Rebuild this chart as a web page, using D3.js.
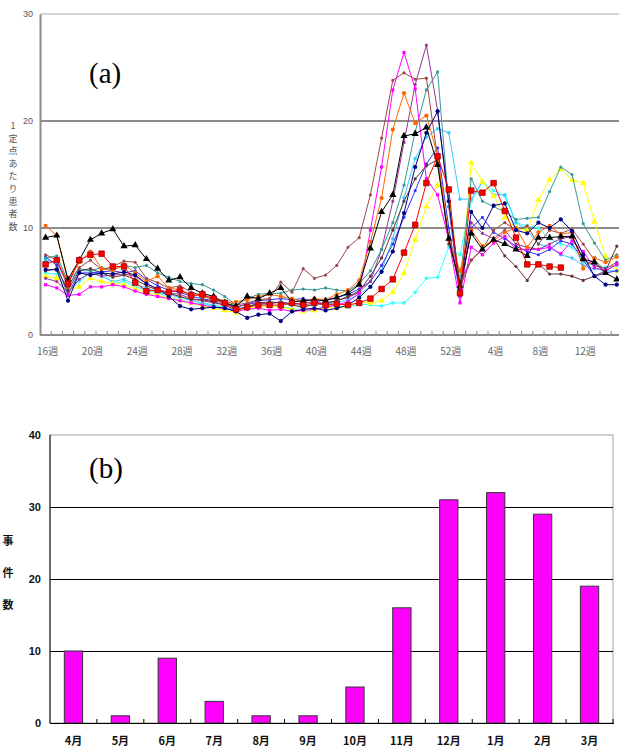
<!DOCTYPE html>
<html><head><meta charset="utf-8">
<script src="https://cdn.jsdelivr.net/npm/d3@7"></script>
<style>body{margin:0;background:#fff}svg{display:block}</style>
</head><body>
<svg id="c" width="619" height="749"></svg>
<script>
// ---------- Chart (a): weekly reports per sentinel ----------
const weeks = ["16","17","18","19","20","21","22","23","24","25","26","27","28","29","30","31","32","33","34","35","36","37","38","39","40","41","42","43","44","45","46","47","48","49","50","51","52","1","2","3","4","5","6","7","8","9","10","11","12","13","14","15"];
const weekTickLabels = ["16","20","24","28","32","36","40","44","48","52","4","8","12"];
const yTicksA = [0,10,20,30];

const s_black  = [9.1,9.3,5.2,7.0,8.9,9.5,9.9,8.3,8.4,7.1,6.2,5.1,5.4,4.4,3.9,3.6,3.0,2.7,3.6,3.4,3.9,4.4,3.1,3.2,3.3,3.2,3.5,3.9,4.7,8.1,11.5,13.1,18.6,18.8,19.4,15.9,9.0,4.6,9.5,8.0,8.9,8.5,8.0,7.4,9.1,9.1,9.2,9.2,7.1,6.8,5.8,5.2];
const s_red    = [6.6,7.0,4.8,7.0,7.5,7.6,6.4,6.4,4.9,4.1,4.2,4.0,4.2,3.7,3.8,3.4,3.0,2.4,2.6,2.8,2.8,2.8,3.0,2.8,3.0,2.8,2.9,2.8,3.0,3.4,4.3,5.2,7.7,10.3,14.2,16.7,13.6,3.9,13.5,13.3,14.2,11.6,9.1,6.6,6.6,6.4,6.3,null,null,null,null,null];
const s_orange = [10.2,9.3,5.0,6.8,7.8,6.2,6.0,6.6,5.8,5.0,5.5,4.4,4.2,3.8,3.6,3.3,3.0,3.1,3.3,3.6,3.8,3.6,3.4,3.1,3.4,3.3,3.8,4.2,5.1,8.7,12.8,19.2,22.6,19.8,20.5,16.8,8.9,6.0,9.8,8.3,8.8,9.6,10.0,8.2,9.6,10.2,9.4,9.6,6.2,7.2,6.8,7.3];
const s_magenta= [4.7,4.4,3.7,3.8,4.5,4.5,4.7,4.5,4.1,3.8,3.6,3.4,3.2,3.0,2.8,2.6,2.5,2.2,2.4,2.5,2.3,2.4,2.2,2.3,2.4,2.6,2.8,3.1,3.9,9.8,15.7,22.9,26.4,23.0,14.6,13.1,8.9,3.0,8.2,7.5,8.6,9.2,8.0,8.0,8.0,8.2,7.6,8.8,7.8,6.3,6.0,6.6];
const s_brown  = [7.5,7.0,4.5,6.3,7.0,6.1,6.4,6.9,6.8,5.3,4.9,4.4,4.6,4.0,3.7,3.4,3.2,2.8,3.0,3.3,3.4,4.95,4.0,6.2,5.3,5.6,6.5,8.2,9.1,13.1,18.4,23.8,24.5,23.9,24.0,16.5,9.0,4.5,7.0,8.0,9.8,10.5,9.8,10.2,8.5,9.8,9.5,9.9,8.5,7.0,6.0,6.6];
const s_purple = [5.3,5.0,4.0,5.2,5.8,5.5,5.6,5.7,5.5,4.8,4.3,3.9,3.8,3.4,3.2,3.0,2.8,2.6,2.9,3.0,2.9,3.1,2.9,3.0,3.1,2.9,3.2,3.5,4.0,5.0,8.0,12.5,18.0,23.4,27.1,21.0,12.0,3.6,10.5,9.5,9.0,9.8,8.5,8.2,8.0,8.5,9.0,9.2,7.0,6.5,6.2,6.8];
const s_teal   = [7.2,7.4,5.0,6.2,6.0,6.3,6.1,6.5,6.3,6.5,5.8,5.4,5.0,4.8,4.7,4.2,3.6,2.8,3.4,3.8,3.9,3.9,4.2,4.3,4.2,4.4,4.2,4.1,4.8,6.0,8.0,10.5,14.0,19.0,22.9,24.6,12.0,5.0,14.6,12.5,12.0,11.5,10.8,10.9,11.0,13.4,15.7,15.0,10.4,8.6,7.0,7.5];
const s_navy   = [6.1,6.1,3.2,5.8,5.6,5.8,5.7,5.9,5.6,4.8,4.3,3.6,2.7,2.4,2.5,2.6,2.5,2.2,1.6,1.9,2.0,1.3,2.2,2.4,2.5,2.3,2.5,2.8,3.5,4.5,5.9,7.8,11.4,15.7,18.9,20.9,12.5,4.3,11.5,10.0,12.1,12.3,9.8,9.5,10.5,10.0,10.8,9.7,7.5,5.5,4.7,4.7];
const s_sky    = [7.0,6.8,4.6,6.0,6.0,5.5,5.0,5.2,4.7,4.4,4.0,3.8,3.5,3.2,3.0,2.8,2.6,2.3,2.7,2.9,3.0,3.1,2.9,2.7,2.8,2.9,3.0,3.3,3.8,4.5,6.0,9.0,12.8,16.5,18.5,19.3,18.9,12.7,12.7,14.3,13.1,13.1,10.5,9.8,8.5,8.2,7.5,7.2,6.5,6.2,6.0,6.0];
const s_cyan   = [5.8,5.7,4.0,5.0,5.8,6.0,4.8,5.0,4.5,4.2,4.0,3.5,3.3,3.0,2.9,2.7,2.5,2.4,2.7,2.9,2.8,2.6,2.5,2.2,2.3,2.8,2.7,2.6,2.9,2.8,2.7,3.0,3.0,4.0,5.3,5.4,8.2,7.5,12.5,14.3,13.5,13.0,10.5,10.2,10.0,9.0,8.5,8.2,6.8,6.5,6.3,6.5];
const s_yellow = [5.5,5.3,4.2,4.5,5.3,5.0,4.8,4.7,4.3,4.0,3.7,3.5,3.2,3.0,2.7,2.5,2.3,2.1,2.5,2.6,2.7,2.6,2.4,2.2,2.3,2.6,2.5,2.7,3.1,3.0,3.2,4.0,5.8,8.9,12.0,14.0,13.5,4.0,16.1,14.3,13.0,11.0,10.0,9.8,12.6,14.5,15.5,14.5,14.2,10.6,7.3,6.0];
const s_dark   = [6.0,6.2,4.2,6.0,6.2,5.8,5.4,5.6,5.2,4.6,4.2,3.9,3.6,3.3,3.3,3.1,2.8,2.3,2.6,3.0,3.1,3.0,2.8,2.6,2.9,3.0,3.2,3.6,4.1,5.5,7.2,9.8,12.5,14.6,15.8,16.4,8.5,5.0,7.0,8.0,9.0,7.4,6.4,5.1,6.7,5.7,5.7,5.5,5.1,5.5,6.0,8.3];
const s_blue   = [7.3,6.5,3.8,5.8,5.8,5.9,6.0,5.8,6.0,5.2,4.6,4.2,4.0,3.6,3.4,3.2,3.0,2.6,2.9,3.2,3.3,3.4,3.3,3.4,3.1,3.3,3.5,3.8,4.3,5.0,6.5,8.5,11.0,13.5,16.0,17.5,10.0,3.8,10.0,11.0,9.6,9.0,8.3,7.8,7.5,8.0,8.8,8.5,7.0,5.5,5.8,6.0];

// ---------- Chart (b): monthly counts ----------
const months = ["4月","5月","6月","7月","8月","9月","10月","11月","12月","1月","2月","3月"];
const counts = [10,1,9,3,1,1,5,16,31,32,29,19];
const yTicksB = [0,10,20,30,40];

// styles (kept separate from data)
const seriesA = [
  {v:s_cyan,   c:"#33FFFF", m:"circle", ms:10, sw:1},
  {v:s_sky,    c:"#33CCFF", m:"circle", ms:10, sw:1},
  {v:s_yellow, c:"#FFFF00", m:"triangle", ms:18, sw:1},
  {v:s_blue,   c:"#3333FF", m:"circle", ms:8, sw:1},
  {v:s_purple, c:"#993399", m:"circle", ms:8, sw:1},
  {v:s_teal,   c:"#339999", m:"circle", ms:8, sw:1},
  {v:s_dark,   c:"#663333", m:"circle", ms:8, sw:1},
  {v:s_brown,  c:"#A04848", m:"circle", ms:8, sw:1},
  {v:s_magenta,c:"#FF00FF", m:"square", ms:10, sw:1},
  {v:s_orange, c:"#FF6600", m:"circle", ms:14, sw:1},
  {v:s_navy,   c:"#000080", m:"circle", ms:14, sw:1},
  {v:s_black,  c:"#000000", m:"triangle", ms:22, sw:1},
  {v:s_red,    c:"#FF0000", m:"square", ms:30, sw:1, stroke:"#990000"}
];

const svg = d3.select("#c");
const jp = "'Noto Sans CJK JP','Noto Sans',sans-serif";
const num = "'Liberation Sans',Arial,sans-serif";

// ---- (a) ----
const pa = {l:40, t:14, b:335, r:619};
const xA = d3.scaleBand().domain(weeks).range([pa.l, pa.l + 11.2*weeks.length]).padding(0);
const cx = w => xA(w) + xA.bandwidth()/2;
const yA = d3.scaleLinear().domain([0,30]).range([pa.b, pa.t]);

const gA = svg.append("g");
gA.append("defs").append("clipPath").attr("id","clipA").append("rect")
  .attr("x", pa.l).attr("y", 0).attr("width", pa.r - pa.l).attr("height", pa.b + 5);

// grid
gA.selectAll("line.grid").data(yTicksA.filter(d=>d>0)).join("line")
  .attr("x1", pa.l).attr("x2", pa.r).attr("y1", d=>yA(d)).attr("y2", d=>yA(d))
  .attr("stroke", d=> d===30 ? "#d4d4d4" : "#8c8c8c").attr("stroke-width", 2);

// y axis
const axA = gA.append("g").attr("transform",`translate(${pa.l},0)`)
  .call(d3.axisLeft(yA).tickValues(yTicksA).tickSize(0).tickPadding(7));
axA.select(".domain").attr("stroke","#8c8c8c").attr("stroke-width",2);
axA.selectAll("text").attr("font-family",num).attr("font-size",9).attr("fill","#555");

// x axis
const axX = gA.append("g").attr("transform",`translate(0,${pa.b})`);
axX.append("line").attr("x1",pa.l).attr("x2",pa.r).attr("y1",0).attr("y2",0)
  .attr("stroke","#8c8c8c").attr("stroke-width",2);
axX.selectAll("line.tk").data(weeks).join("line")
  .attr("x1", w=>xA(w)+xA.bandwidth()).attr("x2", w=>xA(w)+xA.bandwidth())
  .attr("y1",-4).attr("y2",0).attr("stroke","#8c8c8c").attr("stroke-width",1);
axX.selectAll("text").data(weekTickLabels).join("text")
  .attr("x", w=>cx(w)+2).attr("y", 20).attr("text-anchor","middle")
  .attr("font-family",jp).attr("font-size",10).attr("fill","#666").text(w=>w+"週");

// y label (vertical stacked)
const labA = "1定点あたり患者数".split("");
gA.selectAll("text.yl").data(labA).join("text")
  .attr("x", 13).attr("y",(d,i)=>129 + i*12.6).attr("text-anchor","middle")
  .attr("font-family",jp).attr("font-size",9).attr("fill","#555").text(d=>d);

// series
const plot = gA.append("g").attr("clip-path","url(#clipA)");
const line = d3.line().defined(d=>d.v!=null).x(d=>cx(d.w)).y(d=>yA(d.v));
const symMap = {circle:d3.symbolCircle, square:d3.symbolSquare, triangle:d3.symbolTriangle};
seriesA.forEach(s=>{
  const pts = weeks.map((w,i)=>({w, v:s.v[i]}));
  plot.append("path").datum(pts).attr("d",line).attr("fill","none")
    .attr("stroke",s.c).attr("stroke-width",s.sw);
  plot.selectAll(null).data(pts.filter(p=>p.v!=null)).join("path")
    .attr("transform",p=>`translate(${cx(p.w)},${yA(p.v)})`)
    .attr("d", d3.symbol().type(symMap[s.m]).size(s.ms))
    .attr("fill",s.c).attr("stroke",s.stroke||"none").attr("stroke-width",0.8);
});

gA.append("text").attr("x",89).attr("y",83).attr("font-family","'Liberation Serif','DejaVu Serif',serif")
  .attr("font-size",29).attr("fill","#000").text("(a)");

// ---- (b) ----
const pb = {l:50, r:613, t:435, b:723};
const xB = d3.scaleBand().domain(months).range([pb.l, pb.r]).padding(0);
const yB = d3.scaleLinear().domain([0,40]).range([pb.b, pb.t]);
const gB = svg.append("g");

gB.append("rect").attr("x",pb.l).attr("y",pb.t).attr("width",pb.r-pb.l).attr("height",pb.b-pb.t)
  .attr("fill","none").attr("stroke","#a0a0a0").attr("stroke-width",1);
gB.selectAll("line.g").data(yTicksB.filter(d=>d>0 && d<40)).join("line")
  .attr("x1",pb.l).attr("x2",pb.r).attr("y1",d=>yB(d)+0.5).attr("y2",d=>yB(d)+0.5)
  .attr("stroke","#000").attr("stroke-width",1);

const bw = xB.bandwidth()*0.39;
gB.selectAll("rect.bar").data(counts).join("rect")
  .attr("x",(d,i)=>xB(months[i])+xB.bandwidth()/2-bw/2).attr("width",bw)
  .attr("y",d=>yB(d)).attr("height",d=>pb.b-yB(d))
  .attr("fill","#FF00FF").attr("stroke","#333").attr("stroke-width",1);

gB.append("line").attr("x1",pb.l).attr("x2",pb.l).attr("y1",pb.t).attr("y2",pb.b).attr("stroke","#000");
gB.append("line").attr("x1",pb.l).attr("x2",pb.r+1).attr("y1",pb.b+0.5).attr("y2",pb.b+0.5).attr("stroke","#000");
gB.selectAll("line.tk").data(months.slice(0,-1).concat([months[months.length-1]])).join("line")
  .attr("x1",m=>xB(m)+xB.bandwidth()).attr("x2",m=>xB(m)+xB.bandwidth())
  .attr("y1",pb.b-4).attr("y2",pb.b).attr("stroke","#000");

gB.selectAll("text.yt").data(yTicksB).join("text")
  .attr("x",41).attr("y",d=>yB(d)+4).attr("text-anchor","end")
  .attr("font-family",num).attr("font-weight","bold").attr("font-size",11).attr("fill","#111").text(d=>d);
gB.selectAll("text.xt").data(months).join("text")
  .attr("x",m=>xB(m)+xB.bandwidth()/2).attr("y",745).attr("text-anchor","middle")
  .attr("font-family",jp).attr("font-weight","bold").attr("font-size",11).attr("fill","#111").text(m=>m);
gB.selectAll("text.yl").data(["事","件","数"]).join("text")
  .attr("x",8).attr("y",(d,i)=>545+i*32).attr("text-anchor","middle")
  .attr("font-family",jp).attr("font-weight","bold").attr("font-size",11).attr("fill","#111").text(d=>d);

gB.append("text").attr("x",89).attr("y",478).attr("font-family","'Liberation Serif','DejaVu Serif',serif")
  .attr("font-size",29).attr("fill","#000").text("(b)");
</script>
</body></html>
